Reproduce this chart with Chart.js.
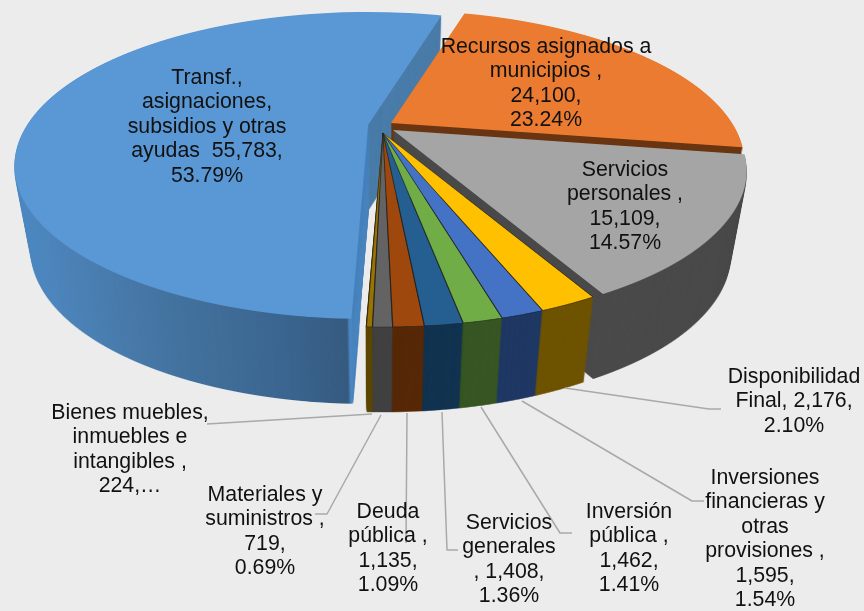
<!DOCTYPE html>
<html>
<head>
<meta charset="utf-8">
<style>html,body{margin:0;padding:0;background:#ececec}canvas{display:block}</style>
<script src="https://cdn.jsdelivr.net/npm/chart.js@4"></script>
</head>
<body>
<canvas id="c" width="864" height="611"></canvas>
<script>
const categories = ["Recursos asignados a municipios","Servicios personales","Disponibilidad Final","Inversiones financieras y otras provisiones","Inversión pública","Servicios generales","Deuda pública","Materiales y suministros","Bienes muebles, inmuebles e intangibles","Transf., asignaciones, subsidios y otras ayudas"];
const values = [24100,15109,2176,1595,1462,1408,1135,719,224,55783];
const topColors = ["#ea7b30","#a5a5a5","#ffc000","#4472c4","#70ad47","#255e91","#9e480e","#636363","#997300","#5a98d5"];
const wallColors = ["#6a3512","#4a4a4a","#6e5300","#1f3864","#375623","#113350","#572807","#404040","#5c4500","#3e74a8"];
const labelLines = [
  ["Recursos asignados a","municipios ,","24,100,","23.24%"],
  ["Servicios","personales ,","15,109,","14.57%"],
  ["Disponibilidad","Final, 2,176,","2.10%"],
  ["Inversiones","financieras y","otras","provisiones ,","1,595,","1.54%"],
  ["Inversión","pública ,","1,462,","1.41%"],
  ["Servicios","generales",", 1,408,","1.36%"],
  ["Deuda","pública ,","1,135,","1.09%"],
  ["Materiales y","suministros ,","719,","0.69%"],
  ["Bienes muebles,","inmuebles e","intangibles ,","224,…"],
  ["Transf.,","asignaciones,","subsidios y otras","ayudas  55,783,","53.79%"]
];
const labelAnchors = [[546,47],[625,170],[794,377],[765,478],[629,512],[509,523],[388,512],[265,495],[130,413],[207,78]];
const leaders = [null,null,
  [[565,388],[709,409],[721,409]],
  [[522,401],[692,501],[704,501]],
  [[481,407],[560,533],[572,533]],
  [[442,412],[447,550],[458,550]],
  [[407,413],[406,543]],
  [[381,415],[327,514],[315,514]],
  [[372,414],[207,424]],
  null];
const sliceShift = [[8,-10],[10,-3],[0,0],[0,0],[0,0],[0,0],[0,0],[0,0],[0,0],[-15,-8]];
const backSlices = [9,0,1];
const frontSlices = [8,7,6,5,4,3,2];

const view = {ax:383, ay:133, rx:341, b:142.8, p:0.264, top:-113, bottom:195, depth:85, shrink:0.045};

function sliceCanvas(chart, el, shift){
  const cv = document.createElement('canvas');
  cv.width = chart.width; cv.height = chart.height;
  const g = cv.getContext('2d');
  const R = el.outerRadius;
  for(let y = view.top - 3; y < view.bottom + 3; y++){
    const ym = y + 0.5;
    const v = ym / (view.b + view.p * ym);
    const den = 1 - view.p * v;
    const sx = view.rx / R / den;
    const sy = view.b / R / (den * den);
    const sy0 = view.ay + y + shift[1];
    g.save();
    g.beginPath();
    g.rect(0, sy0, cv.width, 1);
    g.clip();
    g.setTransform(sx, 0, 0, sy,
      view.ax + shift[0] - sx * el.x,
      view.ay + shift[1] + ym - sy * (el.y + v * R));
    el.draw(g);
    g.restore();
  }
  return cv;
}

function wallCanvas(top, i){
  const cv = document.createElement('canvas');
  cv.width = top.width; cv.height = top.height;
  const g = cv.getContext('2d');
  g.drawImage(top, 0, 0);
  g.globalCompositeOperation = 'source-in';
  if(i === 9){
    const w = cv.width;
    const gr = g.createLinearGradient(0, 0, w, 0);
    gr.addColorStop(14/w, '#4f8ac3');
    gr.addColorStop(70/w, '#4c82b6');
    gr.addColorStop(170/w, '#44739f');
    gr.addColorStop(280/w, '#3b6691');
    gr.addColorStop(347/w, '#365b80');
    gr.addColorStop(349/w, '#4b86c0');
    gr.addColorStop(367/w, '#4b86c0');
    gr.addColorStop(369/w, '#4a7ca9');
    gr.addColorStop(1, '#4a7ca9');
    g.fillStyle = gr;
  } else {
    g.fillStyle = wallColors[i];
  }
  g.fillRect(0, 0, cv.width, cv.height);
  return cv;
}

const pie3d = {
  id:'pie3d',
  beforeDraw(chart){
    const c = chart.ctx;
    c.save(); c.fillStyle = '#ececec'; c.fillRect(0,0,chart.width,chart.height); c.restore();
  },
  beforeDatasetsDraw(chart){
    const c = chart.ctx;
    const arcs = chart.getDatasetMeta(0).data;
    const tops = [], walls = [];
    arcs.forEach((el,i)=>{ tops[i]=sliceCanvas(chart,el,sliceShift[i]); walls[i]=wallCanvas(tops[i],i); });
    const drawWalls = list => {
      for(let k = view.depth; k >= 1; k--){
        const s = 1 - view.shrink * k / view.depth;
        list.forEach(i => c.drawImage(walls[i], view.ax * (1 - s), k, chart.width * s, chart.height));
      }
    };
    backSlices.forEach(i=>{ drawWalls([i]); c.drawImage(tops[i],0,0); });
    drawWalls(frontSlices);
    frontSlices.forEach(i=>c.drawImage(tops[i],0,0));
    return false;
  },
  afterDraw(chart){
    const c = chart.ctx;
    c.save();
    c.strokeStyle = '#a9a9a9'; c.lineWidth = 1.5; c.lineJoin='round';
    leaders.forEach(p=>{
      if(!p) return;
      c.beginPath();
      p.forEach((q,j)=> j? c.lineTo(q[0],q[1]) : c.moveTo(q[0],q[1]));
      c.stroke();
    });
    c.fillStyle = '#111111';
    c.font = '21.3px "Liberation Sans", Arial, sans-serif';
    c.textAlign = 'center'; c.textBaseline = 'middle';
    labelLines.forEach((lines,i)=>{
      lines.forEach((t,j)=> c.fillText(t, labelAnchors[i][0], labelAnchors[i][1] + j*24.5));
    });
    c.restore();
  }
};

new Chart(document.getElementById('c'), {
  type:'pie',
  data:{labels:categories, datasets:[{data:values, backgroundColor:topColors, borderWidth:values.map((v,i)=> (i>=2&&i<=8)?0.8:0), borderColor:'rgba(30,30,30,0.75)'}]},
  options:{
    responsive:false, animation:false, rotation:15.7,
    plugins:{legend:{display:false}, tooltip:{enabled:false}}
  },
  plugins:[pie3d]
});
</script>
</body>
</html>
